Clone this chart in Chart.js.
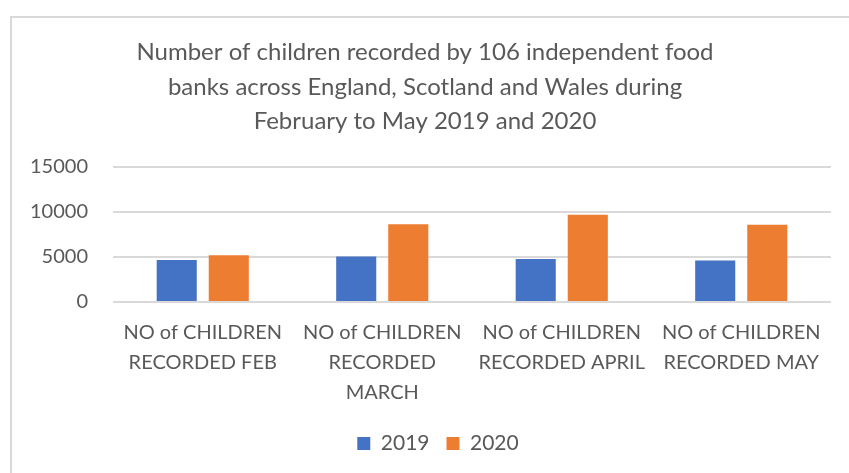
<!DOCTYPE html>
<html>
<head>
<meta charset="utf-8">
<script src="https://cdn.jsdelivr.net/npm/chart.js@4/dist/chart.umd.min.js"></script>
<style>
  html, body { margin: 0; padding: 0; background: #fff; }
  #frame {
    position: absolute; left: 10px; top: 16px; right: -4px; bottom: -4px;
    border-left: 2px solid #d9d9d9; border-top: 2px solid #d9d9d9;
  }
  #wrap { position: absolute; left: 0; top: 0; width: 849px; height: 473px; }
</style>
</head>
<body>
<div id="frame"></div>
<div id="wrap"><canvas id="chart" width="849" height="473"></canvas></div>
<script>
// food bank counts, Feb–May
const months = [
  ["NO of CHILDREN", "RECORDED FEB"],
  ["NO of CHILDREN", "RECORDED", "MARCH"],
  ["NO of CHILDREN", "RECORDED APRIL"],
  ["NO of CHILDREN", "RECORDED MAY"],
];
const kids2019 = [4660, 5040, 4780, 4590];
const kids2020 = [5190, 8620, 9660, 8550];
const yTicks = [0, 5000, 10000, 15000];

const titleLines = [
  "Number of children recorded by 106 independent food",
  "banks across England, Scotland and Wales during",
  "February to May 2019 and 2020",
];

const grey = "#595959";
Chart.defaults.font.family = "Lato, 'Open Sans', sans-serif";
Chart.defaults.color = grey;

// title and legend sit a bit right of the plot's centre
const nudgeBoxes = {
  id: "nudgeBoxes",
  afterLayout(chart) {
    if (chart.titleBlock) chart.titleBlock.left += 14;
    if (chart.legend) chart.legend.left += 40;
  },
};

new Chart(document.getElementById("chart"), {
  type: "bar",
  data: {
    labels: months,
    datasets: [
      { label: "2019", data: kids2019, backgroundColor: "#4472c4" },
      { label: "2020", data: kids2020, backgroundColor: "#ed7d31" },
    ],
  },
  plugins: [nudgeBoxes],
  options: {
    responsive: false,
    animation: false,
    datasets: { bar: { categoryPercentage: 0.58, barPercentage: 0.77 } },
    layout: { padding: { left: 5, right: 18, top: 35, bottom: 9 } },
    plugins: {
      title: {
        display: true,
        text: titleLines,
        color: grey,
        font: { size: 24, weight: "normal", lineHeight: 1.44 },
        padding: { top: 0, bottom: 28 },
      },
      legend: {
        position: "bottom",
        labels: { boxWidth: 13, boxHeight: 13, font: { size: 21 }, padding: 17, color: grey },
      },
      tooltip: { enabled: false },
    },
    scales: {
      x: {
        grid: { display: false },
        border: { display: false },
        ticks: {
          font: { size: 20, lineHeight: 1.5 }, color: grey,
          maxRotation: 0, autoSkip: false, padding: 8,
        },
      },
      y: {
        min: 0,
        max: 15000,
        afterBuildTicks: (axis) => { axis.ticks = yTicks.map(v => ({ value: v })); },
        grid: { color: "#d9d9d9", lineWidth: 2, drawTicks: false },
        border: { display: false },
        ticks: { font: { size: 20 }, color: grey, padding: 25, callback: (v) => String(v) },
      },
    },
  },
});
</script>
</body>
</html>
